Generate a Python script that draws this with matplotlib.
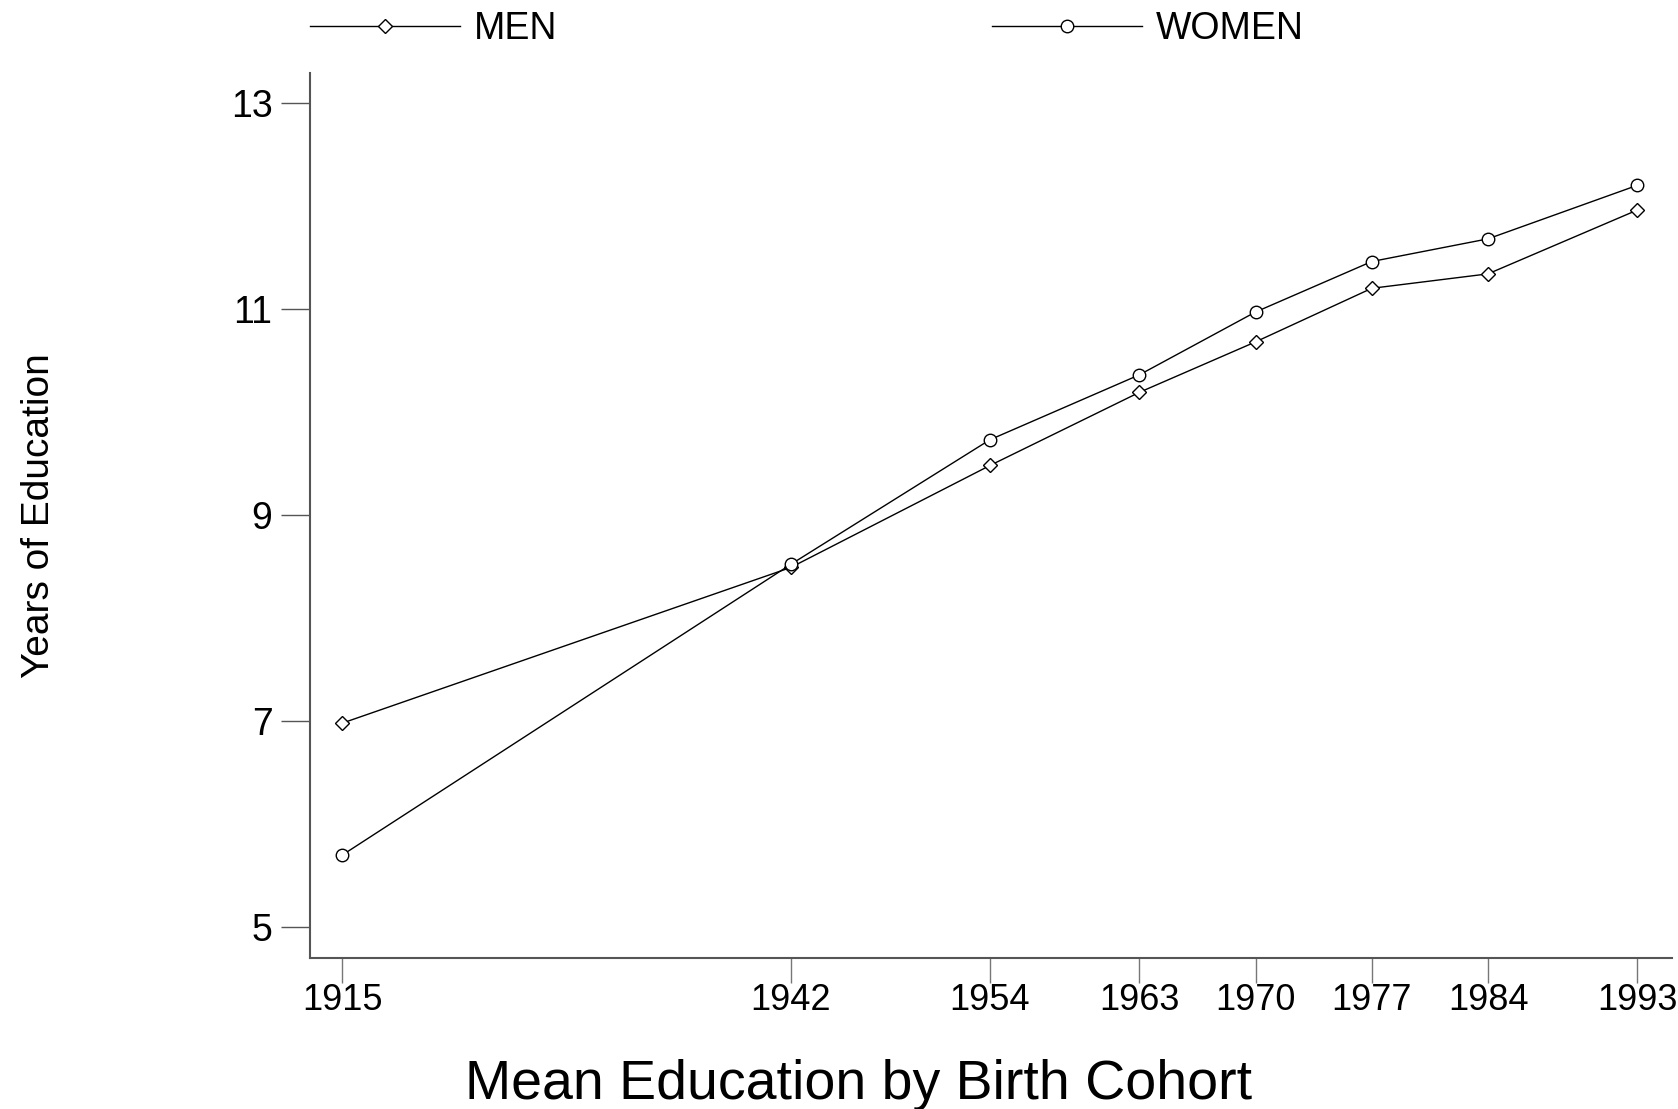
import matplotlib
matplotlib.use("Agg")
import matplotlib.pyplot as plt

plt.rcParams['font.family'] = ['Liberation Sans', 'DejaVu Sans']

# birth cohorts and mean years of education
cohorts = [1915, 1942, 1954, 1963, 1970, 1977, 1984, 1993]
men = [6.98, 8.49, 9.48, 10.19, 10.68, 11.20, 11.34, 11.96]
women = [5.70, 8.52, 9.73, 10.36, 10.97, 11.46, 11.68, 12.20]
yticks = [5, 7, 9, 11, 13]

fig = plt.figure(figsize=(16.78, 11.09), dpi=100)
ax = fig.add_axes([0.1847, 0.1362, 0.8117, 0.798])

ax.plot(cohorts, men, color='black', lw=1.0, marker='D', markersize=7,
        markerfacecolor='white', markeredgecolor='black', markeredgewidth=1.0, label='MEN')
ax.plot(cohorts, women, color='black', lw=1.0, marker='o', markersize=9,
        markerfacecolor='white', markeredgecolor='black', markeredgewidth=1.0, label='WOMEN')

ax.set_xlim(1913.04, 1995.08)
ax.set_ylim(4.70, 13.29)
ax.set_xticks(cohorts)
ax.set_yticks(yticks)

for s in ['top', 'right']:
    ax.spines[s].set_visible(False)
for s in ['left', 'bottom']:
    ax.spines[s].set_color('#555555')
    ax.spines[s].set_linewidth(1.5)

ax.tick_params(axis='x', length=18, width=1.0, color='#777777', pad=0, labelsize=26)
ax.tick_params(axis='y', length=21, width=1.0, color='#555555', pad=6, labelsize=27)

ax.set_ylabel("Years of Education", fontsize=28)
ax.yaxis.set_label_coords(-0.186, 0.5)

fig.text(0.5115, 0.022, "Mean Education by Birth Cohort", fontsize=40, ha='center', va='center')

fig.legend(loc='center left', bbox_to_anchor=(0.1847, 0.974), ncol=2, frameon=False,
           fontsize=27, handlelength=4.0, handletextpad=0.37, columnspacing=11.6,
           numpoints=1, borderaxespad=0, borderpad=0)

fig.savefig('out.png', dpi=100)
